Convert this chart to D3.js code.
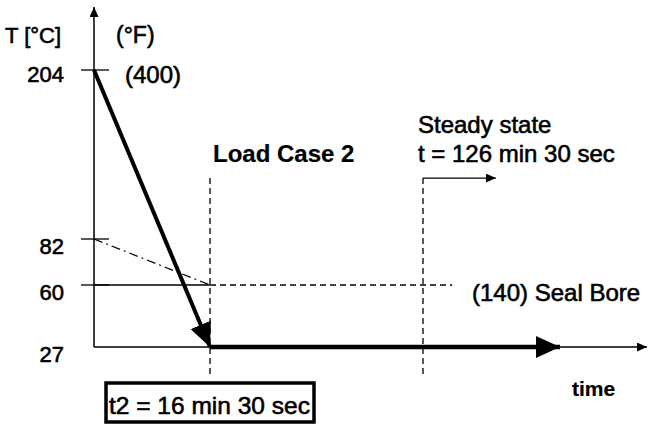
<!DOCTYPE html>
<meta charset="utf-8">
<html>
<head>
<title>Load Case 2</title>
<script src="https://d3js.org/d3.v7.min.js"></script>
<style>
  body { margin: 0; background: #fff; }
  text { font-family: "Liberation Sans", Arial, sans-serif; fill: #000; }
</style>
</head>
<body>
<script>
// temperature levels marked on the axis, °C
const tempLevels = [204, 82, 60, 27];
// fahrenheit labels
const tempF = [{t: 204, label: "(400)"}, {t: 60, label: "(140) Seal Bore"}];
// key times in minutes
const t2 = 16.5;          // 16 min 30 sec
const tSteady = 126.5;    // 126 min 30 sec
// main heat-up / cool-down path (time, °C)
const mainCurve = [[0, 204], [t2, 27]];
const holdCurve = [[t2, 27], [150, 27]];
// seal bore path (dash-dot)
const sealCurve = [[0, 82], [t2, 60]];

const width = 648, height = 429;

// schematic (piecewise) scales
const x = d3.scaleLinear()
  .domain([0, t2, tSteady, 150, 175])
  .range([94, 210, 423, 560, 647]);
const y = d3.scaleLinear()
  .domain([10, 27, 60, 82, 204, 250])
  .range([378, 347, 285, 239, 70, 7]);

const svg = d3.select("body").append("svg")
  .attr("width", width)
  .attr("height", height);

const defs = svg.append("defs");
function marker(id, len, wid) {
  defs.append("marker")
    .attr("id", id)
    .attr("markerUnits", "userSpaceOnUse")
    .attr("markerWidth", len).attr("markerHeight", wid)
    .attr("refX", len).attr("refY", wid / 2)
    .attr("orient", "auto")
    .append("path")
    .attr("d", `M0,0L${len},${wid / 2}L0,${wid}Z`)
    .attr("fill", "#000");
}
marker("small", 10, 9);
marker("big", 24, 22);

const line = d3.line().x(d => x(d[0])).y(d => y(d[1]));

// axes
svg.append("path")
  .attr("d", line([[0, 27], [0, 250]]))
  .attr("stroke", "#000").attr("stroke-width", 1.5)
  .attr("marker-end", "url(#small)");
svg.append("path")
  .attr("d", line([[0, 27], [175, 27]]))
  .attr("stroke", "#000").attr("stroke-width", 1.5)
  .attr("marker-end", "url(#small)");

// ticks
svg.selectAll(".tick").data(tempLevels.filter(d => d !== 27))
  .enter().append("line")
  .attr("x1", x(0) - 13).attr("x2", x(0) + 15)
  .attr("y1", d => y(d)).attr("y2", d => y(d))
  .attr("stroke", "#000").attr("stroke-width", 1.3);

// 60 level: solid to t2 then dashed
svg.append("path")
  .attr("d", line([[0, 60], [t2, 60]]))
  .attr("stroke", "#000").attr("stroke-width", 1.3);
svg.append("path")
  .attr("d", line([[t2, 60], [131.5, 60]]))
  .attr("stroke", "#000").attr("stroke-width", 1.3)
  .attr("stroke-dasharray", "6,4");

// vertical guides
[t2, tSteady].forEach(t => {
  svg.append("path")
    .attr("d", line([[t, 126], [t, 10]]))
    .attr("stroke", "#000").attr("stroke-width", 1.3)
    .attr("stroke-dasharray", "6,4");
});
// steady state arrow
svg.append("path")
  .attr("d", line([[tSteady, 126], [139, 126]]))
  .attr("fill", "none")
  .attr("stroke", "#000").attr("stroke-width", 1.3)
  .attr("marker-end", "url(#small)");

// seal bore dash-dot
svg.append("path")
  .attr("d", line(sealCurve))
  .attr("stroke", "#000").attr("stroke-width", 1.2)
  .attr("stroke-dasharray", "9,4,2,4");

// heavy arrows
svg.append("path")
  .attr("d", line(mainCurve))
  .attr("stroke", "#000").attr("stroke-width", 4)
  .attr("marker-end", "url(#big)");
svg.append("path")
  .attr("d", line(holdCurve))
  .attr("stroke", "#000").attr("stroke-width", 4.5)
  .attr("marker-end", "url(#big)");

// labels
const txt = (s, px, py, opts = {}) => svg.append("text")
  .attr("x", px).attr("y", py)
  .attr("font-size", opts.size || 23)
  .attr("font-weight", opts.weight || "normal")
  .attr("text-anchor", opts.anchor || "start")
  .attr("stroke", "#000")
  .attr("stroke-width", opts.weight === "bold" ? 0.2 : 0.6)
  .text(s);

txt("T [°C]", 5, 43, {size: 22});
txt("(°F)", 116, 43, {size: 23});
tempLevels.forEach(t => txt(t, x(0) - 30, y(t) + (t === 204 ? 12 : 15), {anchor: "end", size: 22}));
tempF.forEach(d => txt(d.label, d.t === 204 ? 125 : 472, y(d.t) + (d.t === 204 ? 13 : 16), {size: 24}));

txt("Load Case 2", x(t2) + 3, 162, {size: 24, weight: "bold"});
txt("Steady state", x(tSteady) - 5, 133, {size: 24});
txt("t = 126 min 30 sec", x(tSteady) - 5, 162, {size: 24});
txt("time", 572, 396, {size: 21, weight: "bold"});

// t2 box
svg.append("rect")
  .attr("x", 106).attr("y", 383)
  .attr("width", 208).attr("height", 39)
  .attr("fill", "#fff")
  .attr("stroke", "#000").attr("stroke-width", 3.5);
txt("t2 = 16 min 30 sec", 109, 414, {size: 24.5});
</script>
</body>
</html>
